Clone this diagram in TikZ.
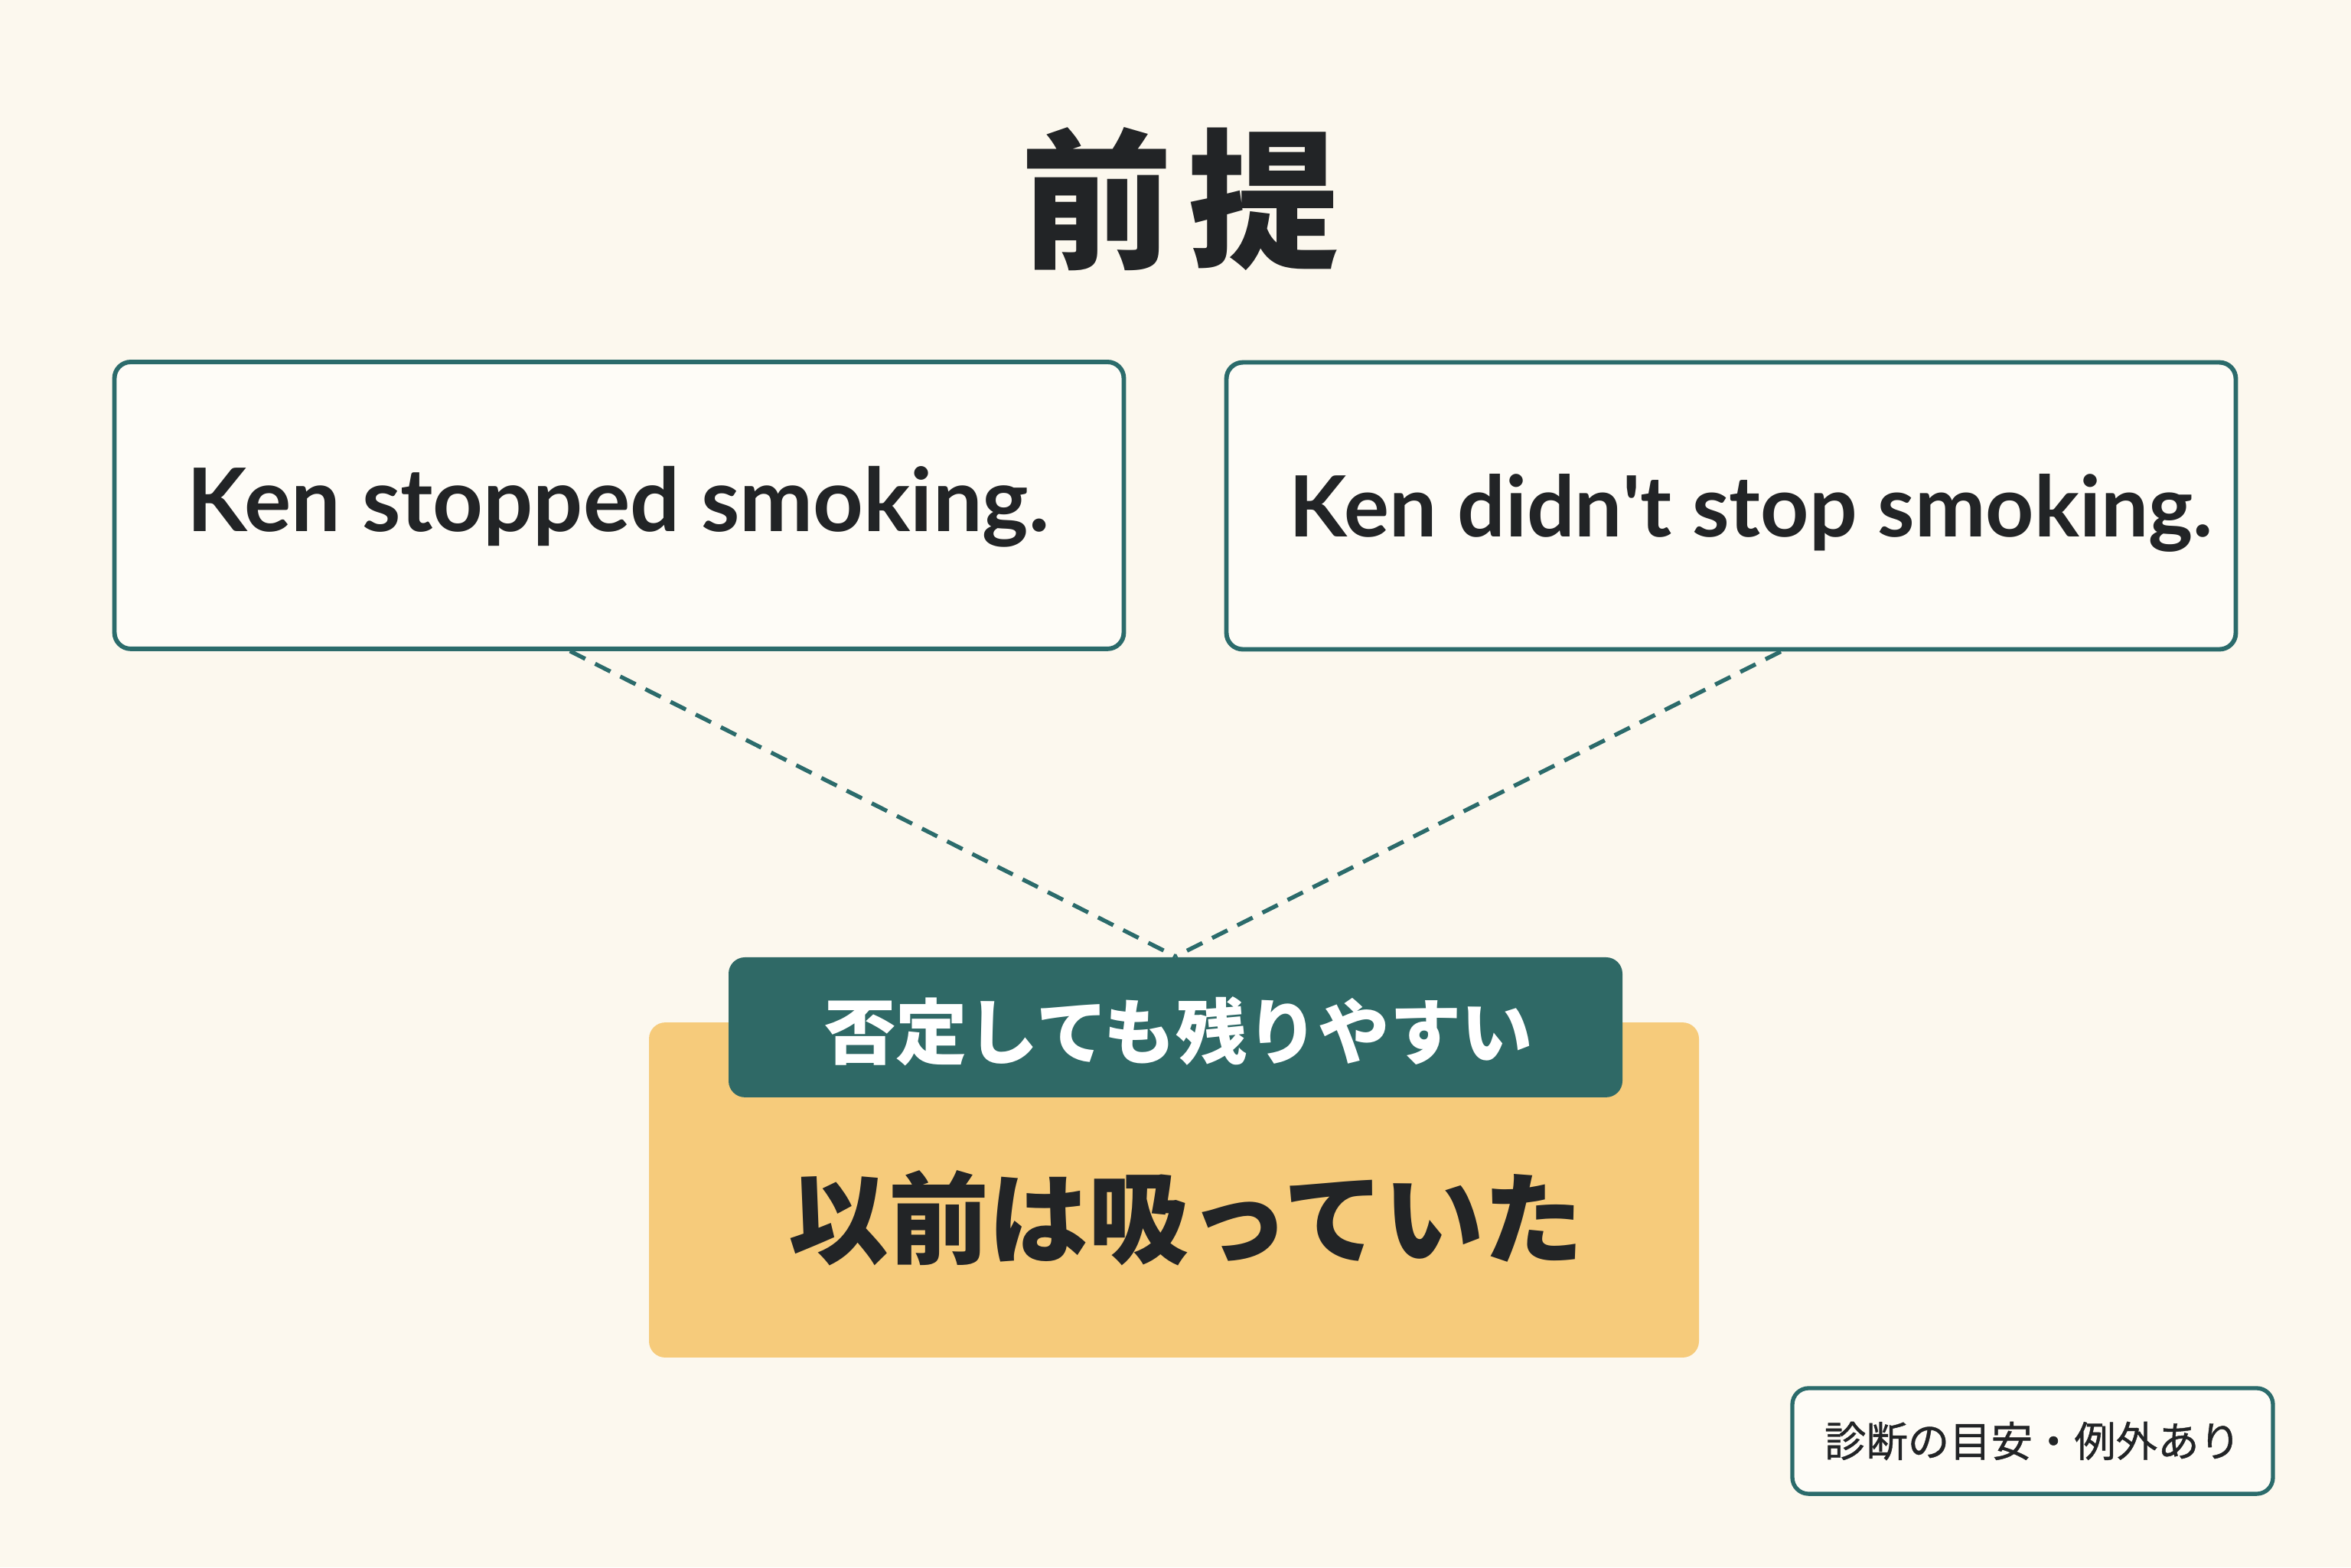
\documentclass[tikz,border=0pt]{standalone}
\usepackage{fontspec}
\setmainfont{Lato}
\newfontfamily\jpfont{Noto Sans CJK JP}
\newfontfamily\jpnotefont{Noto Sans CJK JP}[FakeBold=0.8]
\usetikzlibrary{positioning,calc}
\definecolor{bgcream}{HTML}{FCF8EE}
\definecolor{boxwhite}{HTML}{FEFCF7}
\definecolor{tealline}{HTML}{2B6B6B}
\definecolor{tealfill}{HTML}{2F6966}
\definecolor{yellowfill}{HTML}{F6CB7B}
\definecolor{inkdark}{HTML}{222426}
\tikzset{
  sentbox/.style={draw=tealline, line width=1.1pt, rounded corners=4pt, fill=boxwhite, minimum width=247.3pt, minimum height=70.3pt, inner sep=0pt},
  senttext/.style={text=inkdark, font=\fontsize{21.5}{24}\selectfont\bfseries, inner sep=0pt},
  dashlink/.style={draw=tealline, line width=1pt, dash pattern=on 4.2pt off 2.7pt},
}
\begin{document}
\begin{tikzpicture}[x=0.75pt,y=0.75pt,yscale=-1,xscale=1]
\fill [bgcream] (0,0) rectangle (768,512) ;
\useasboundingbox (0,0) rectangle (768,512) ;
% title
\node [text=inkdark, font=\jpfont\fontsize{37}{42}\selectfont\bfseries] (title) at (385.5,65) {前\hspace{4pt}提};
% the two sentences
\node [sentbox] (box1) at (202.25,165.1) {};
\node [sentbox] (box2) at (565.5,165.25) {};
\node [senttext] (sent1) at (202,165.5) {Ken stopped smoking.};
\node [senttext, font=\fontsize{20.7}{24}\selectfont\bfseries] (sent2) at (572,167.5) {Ken didn\textquotesingle t stop smoking.};
% result boxes
\node [fill=yellowfill, rounded corners=4pt, minimum width=257.25pt, minimum height=82.1pt, inner sep=0pt] (result) at (383.5,388.75) {};
\node [fill=tealfill, rounded corners=4pt, minimum width=219pt, minimum height=34.3pt, inner sep=0pt] (tag) at (384,335.6) {};
\node [text=white, font=\jpfont\fontsize{17.5}{20}\selectfont\bfseries] (tagtext) at (385,337) {否定しても残りやすい};
\node [text=inkdark, font=\jpfont\fontsize{24.5}{28}\selectfont\bfseries] (resulttext) at (387.5,398) {以前は吸っていた};
% links
\coordinate (d1) at ($(box1.south west)!0.4515!(box1.south east)$);
\coordinate (d2) at ($(box2.south west)!0.549!(box2.south east)$);
\draw [dashlink] (d1) -- (tag.north) ;
\draw [dashlink] (d2) -- (tag.north) ;
% note
\node [draw=tealline, line width=1pt, rounded corners=4pt, fill=boxwhite, minimum width=117.75pt, minimum height=25.9pt, inner sep=0pt, text=inkdark, font=\jpnotefont\fontsize{10.2}{12}\selectfont] (note) at (664,470.75) {診断の目安・例外あり};
\end{tikzpicture}
\end{document}
